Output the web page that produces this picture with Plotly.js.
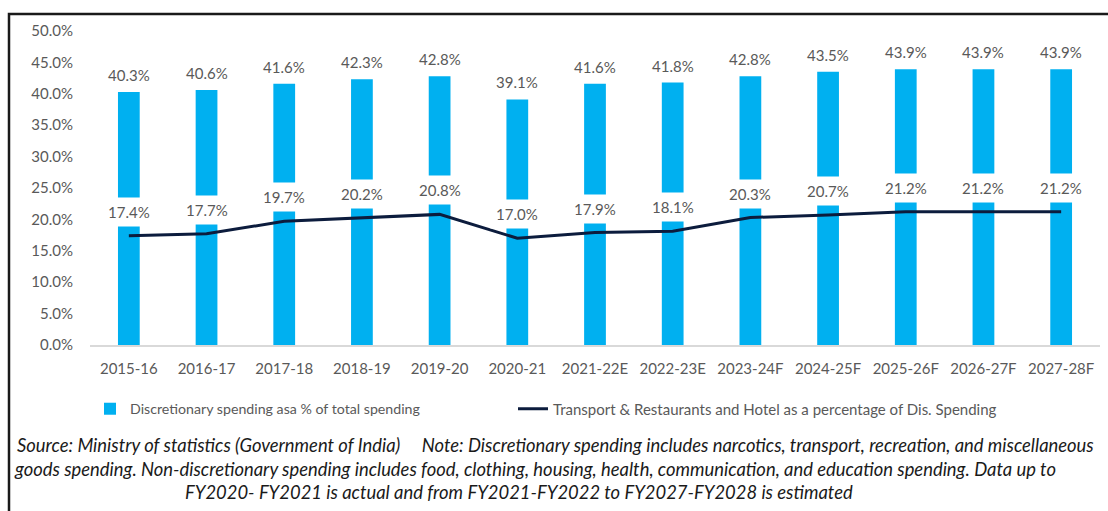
<!DOCTYPE html>
<html>
<head>
<meta charset="utf-8">
<script src="https://cdn.plot.ly/plotly-3.0.1.min.js"></script>
<style>html,body{margin:0;padding:0;background:#fff;}#chart{width:1108px;height:511px;}</style>
</head>
<body>
<div id="chart"></div>
<script>
const categories = ["2015-16","2016-17","2017-18","2018-19","2019-20","2020-21","2021-22E","2022-23E","2023-24F","2024-25F","2025-26F","2026-27F","2027-28F"];
const discretionaryShare = [40.3,40.6,41.6,42.3,42.8,39.1,41.6,41.8,42.8,43.5,43.9,43.9,43.9];
const transportShare = [17.4,17.7,19.7,20.2,20.8,17.0,17.9,18.1,20.3,20.7,21.2,21.2,21.2];
const barName = "Discretionary spending asa % of total spending";
const lineName = "Transport & Restaurants and Hotel as a percentage of Dis. Spending";
const noteLines = [
  "Source: Ministry of statistics (Government of India)&nbsp;&nbsp;&nbsp;&nbsp; Note: Discretionary spending includes narcotics, transport, recreation, and miscellaneous",
  "goods spending. Non-discretionary spending includes food, clothing, housing, health, communication, and education spending. Data up to",
  "FY2020- FY2021 is actual and from FY2021-FY2022 to FY2027-FY2028 is estimated"
];

const FONT = "Lato, 'Open Sans', sans-serif";
const GREY = "#595959";

const traces = [
  {type:"bar", x:categories, y:discretionaryShare, name:barName, legend:"legend",
   marker:{color:"#00B0F0"}, hoverinfo:"skip"},
  {type:"scatter", mode:"lines", x:categories, y:transportShare, name:lineName, legend:"legend2",
   line:{color:"#0C1C3D", width:3}, hoverinfo:"skip"}
];

const annotations = [];
categories.forEach((c,i)=>{
  annotations.push({x:c, y:discretionaryShare[i], xref:"x", yref:"y", text:discretionaryShare[i].toFixed(1)+"%",
    showarrow:false, yshift:17, font:{family:FONT, size:15, color:GREY}});
  annotations.push({x:c, y:transportShare[i], xref:"x", yref:"y", text:transportShare[i].toFixed(1)+"%",
    showarrow:false, yshift:24, bgcolor:"#ffffff", borderpad:5, font:{family:FONT, size:15, color:GREY}});
});
const noteX = [555, 535, 519];
const noteY = [445, 469, 492];
noteLines.forEach((t,i)=>{
  annotations.push({xref:"paper", yref:"paper", x:(noteX[i]-90)/1010, y:(345-noteY[i])/314,
    xanchor:"center", yanchor:"middle", showarrow:false, text:t,
    font:{family:FONT, size:18.4, color:"#1a1a1a", style:"italic"}});
});

const layout = {
  width:1108, height:511,
  margin:{l:90, r:8, t:31, b:166, pad:0},
  paper_bgcolor:"#ffffff", plot_bgcolor:"#ffffff",
  bargap:0.72,
  showlegend:true,
  legend:{orientation:"h", x:(90-90)/1010, y:(345-409)/314, xanchor:"left", yanchor:"middle",
    font:{family:FONT, size:14.2, color:GREY}, bgcolor:"rgba(0,0,0,0)"},
  legend2:{orientation:"h", x:(513-90)/1010, y:(345-409)/314, xanchor:"left", yanchor:"middle",
    font:{family:FONT, size:15, color:GREY}, bgcolor:"rgba(0,0,0,0)"},
  xaxis:{type:"category", showgrid:false, zeroline:false, showline:true, linecolor:"#D9D9D9", linewidth:1.5,
    ticks:"", tickfont:{family:FONT, size:15, color:GREY}, ticklabelstandoff:9},
  yaxis:{range:[0,50], dtick:5, tick0:0, showgrid:false, zeroline:false, showline:false,
    ticksuffix:"%", tickformat:".1f", ticks:"", ticklabelstandoff:16,
    tickfont:{family:FONT, size:15, color:GREY}},
  annotations:annotations,
  shapes:[{type:"rect", xref:"paper", yref:"paper", x0:(9-90)/1010, x1:(1120-90)/1010,
    y0:(345-530)/314, y1:(345-14)/314, line:{color:"#1a1a1a", width:2.5}, fillcolor:"rgba(0,0,0,0)", layer:"above"}]
};

Plotly.newPlot("chart", traces, layout, {displayModeBar:false, staticPlot:true});
</script>
</body>
</html>
